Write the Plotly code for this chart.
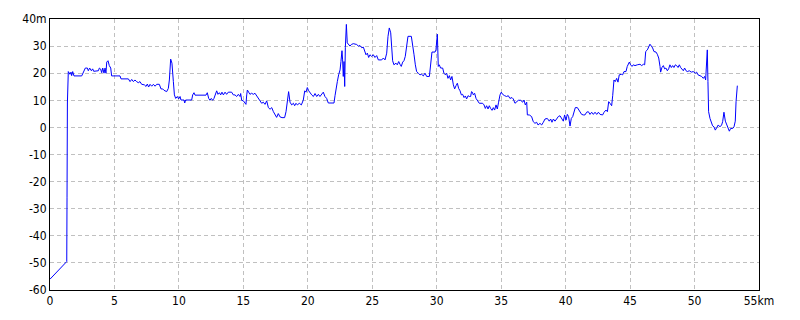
import plotly.graph_objects as go

# distance (km) and elevation (m)
km = [0, 1.3, 1.32, 1.35, 1.42, 1.55, 1.63, 1.68, 1.76, 1.86, 2.46, 2.59, 2.74, 2.9, 2.97, 3.08, 3.21, 3.31, 3.39, 3.75,
      3.83, 3.93, 4.01, 4.09, 4.19, 4.27, 4.34, 4.4, 4.5, 4.6, 4.71, 4.78, 5.43, 5.51, 6.08, 6.21, 6.34, 6.47, 6.59, 6.72,
      6.85, 6.98, 7.11, 7.32, 7.45, 7.55, 7.65, 7.76, 7.89, 8.02, 8.15, 8.28, 8.48, 8.61, 8.74, 8.84, 9.05, 9.18, 9.26, 9.36,
      9.46, 9.57, 9.65, 9.75, 9.88, 9.98, 10.09, 10.16, 10.4, 10.45, 10.52, 10.99, 11.07, 11.17, 11.25, 12.1, 12.2, 12.31, 12.41, 12.51,
      12.62, 12.72, 12.83, 12.93, 13.03, 13.14, 13.24, 13.34, 13.45, 13.58, 13.7, 13.83, 14.09, 14.22, 14.35, 14.48, 14.61, 14.74, 14.79, 14.87,
      15.0, 15.13, 15.2, 15.26, 15.31, 15.41, 15.51, 15.64, 15.77, 15.9, 16.03, 16.16, 16.29, 16.42, 16.55, 16.68, 16.81, 16.94, 17.07, 17.2,
      17.33, 17.45, 17.58, 17.71, 17.84, 18.0, 18.2, 18.31, 18.41, 18.51, 18.62, 18.75, 18.88, 18.98, 19.08, 19.19, 19.34, 19.5, 19.65, 19.76,
      19.86, 19.96, 20.07, 20.17, 20.3, 20.43, 20.56, 20.69, 20.82, 20.94, 21.07, 21.2, 21.33, 21.46, 21.59, 22.03, 22.11, 22.19, 22.29, 22.39,
      22.5, 22.57, 22.65, 22.7, 22.75, 22.81, 22.86, 22.91, 22.99, 23.06, 23.17, 23.27, 23.38, 23.53, 23.79, 23.92, 24.05, 24.18, 24.31, 24.41,
      24.51, 24.62, 24.72, 24.82, 24.95, 25.08, 25.21, 25.34, 25.47, 25.73, 25.86, 25.99, 26.12, 26.22, 26.32, 26.43, 26.5, 26.58, 26.68, 26.84,
      26.94, 27.05, 27.15, 27.25, 27.36, 27.46, 27.56, 27.67, 27.77, 28.03, 28.13, 28.24, 28.34, 28.44, 28.57, 28.7, 28.83, 28.96, 29.09, 29.22,
      29.43, 29.53, 29.63, 29.87, 29.94, 30.05, 30.12, 30.2, 30.3, 30.46, 30.56, 30.67, 30.77, 30.87, 30.98, 31.08, 31.18, 31.29, 31.39, 31.5,
      31.6, 31.7, 31.81, 31.91, 32.01, 32.12, 32.22, 32.32, 32.43, 32.53, 32.63, 32.7, 32.76, 32.84, 32.94, 33.05, 33.15, 33.3, 33.56, 33.67,
      33.77, 33.87, 33.98, 34.08, 34.18, 34.29, 34.39, 34.49, 34.6, 34.7, 34.8, 34.91, 35.01, 35.11, 35.27, 35.42, 35.55, 35.68, 35.84, 35.94,
      36.07, 36.2, 36.33, 36.51, 36.67, 36.77, 36.87, 36.98, 37.03, 37.18, 37.36, 37.49, 37.62, 37.75, 37.86, 38.01, 38.14, 38.27, 38.4, 38.58,
      38.73, 38.84, 38.94, 39.05, 39.17, 39.3, 39.43, 39.56, 39.69, 39.82, 39.92, 40.03, 40.13, 40.23, 40.34, 40.44, 40.55, 40.65, 40.75, 40.91,
      41.01, 41.11, 41.24, 41.37, 41.5, 41.63, 41.76, 41.89, 42.02, 42.15, 42.28, 42.41, 42.54, 42.67, 42.87, 42.98, 43.13, 43.24, 43.34, 43.44,
      43.57, 43.65, 43.75, 43.85, 43.96, 44.06, 44.16, 44.32, 44.42, 44.53, 44.68, 44.78, 44.94, 45.04, 45.15, 45.25, 45.38, 45.56, 45.77, 45.9,
      46.03, 46.13, 46.21, 46.34, 46.44, 46.54, 46.65, 46.75, 46.85, 47.01, 47.11, 47.22, 47.32, 47.37, 47.47, 47.58, 47.68, 47.78, 47.89, 47.99,
      48.09, 48.2, 48.3, 48.4, 48.51, 48.61, 48.72, 48.82, 48.92, 49.03, 49.13, 49.23, 49.34, 49.44, 49.59, 49.75, 49.9, 50.06, 50.16, 50.27,
      50.42, 50.55, 50.68, 50.78, 50.86, 50.91, 50.99, 51.04, 51.09, 51.2, 51.3, 51.4, 51.51, 51.61, 51.72, 51.84, 51.97, 52.1, 52.18, 52.28,
      52.39, 52.49, 52.59, 52.7, 52.8, 52.96, 53.06, 53.16, 53.22, 53.27, 53.32]

elev = [-56, -49.5, -26, 9, 20.6, 19.6, 20.4, 19.1, 20.6, 19.0, 19.0, 20.4, 21.9, 21.9, 20.9, 21.9, 20.9, 21.6, 20.7, 20.9,
        21.9, 21.5, 20.2, 21.9, 20.0, 21.9, 20.0, 24.1, 24.6, 22.8, 21.9, 19.0, 19.0, 17.9, 17.9, 16.9, 17.7, 16.9, 17.5, 16.9,
        16.5, 16.9, 15.9, 15.7, 15.1, 16.0, 14.9, 15.9, 15.2, 15.9, 15.2, 15.9, 15.9, 14.2, 14.2, 13.7, 13.2, 14.4, 17.5, 25.2,
        23.7, 16.9, 12.0, 10.7, 11.4, 10.5, 11.4, 10.1, 10.1, 9.0, 10.1, 10.1, 12.0, 12.8, 11.9, 11.9, 12.8, 10.7, 10.0, 10.7,
        10.0, 10.7, 11.9, 13.5, 12.2, 12.8, 12.0, 13.0, 12.0, 13.0, 12.2, 13.0, 13.0, 12.0, 12.0, 11.4, 12.2, 11.4, 12.5, 10.0,
        9.8, 9.1, 8.5, 12.0, 13.8, 13.0, 12.2, 12.6, 12.2, 12.6, 11.7, 10.5, 9.8, 8.9, 9.3, 8.5, 9.8, 7.3, 6.7, 7.3,
        5.8, 4.6, 3.7, 5.1, 3.9, 3.6, 3.6, 5.8, 9.3, 13.2, 9.3, 8.3, 8.9, 8.0, 8.9, 8.3, 8.9, 8.3, 10.1, 13.5,
        13.0, 14.7, 13.5, 12.6, 12.0, 11.4, 12.5, 11.4, 12.2, 11.4, 12.2, 13.0, 11.4, 10.7, 9.0, 9.0, 11.7, 15.1, 16.9, 19.4,
        21.2, 24.3, 28.3, 24.9, 18.8, 24.3, 15.1, 29.4, 38.0, 31.2, 30.6, 30.0, 30.6, 30.9, 30.6, 30.0, 30.2, 29.4, 29.6, 27.8,
        26.8, 27.4, 25.8, 26.8, 26.2, 26.8, 25.8, 26.5, 24.9, 24.9, 25.6, 24.9, 27.4, 33.6, 36.7, 34.9, 29.4, 24.6, 23.1, 23.7,
        23.1, 24.3, 23.3, 22.5, 24.1, 24.6, 26.2, 30.0, 33.6, 33.6, 29.4, 26.8, 23.1, 20.6, 20.0, 19.4, 19.6, 19.0, 20.0, 18.8,
        18.8, 24.3, 27.8, 27.8, 28.6, 34.4, 22.5, 23.1, 21.9, 21.9, 20.0, 19.4, 20.0, 18.1, 19.1, 17.5, 18.8, 15.7, 14.2, 15.4,
        16.3, 14.4, 13.5, 12.0, 12.2, 11.0, 11.6, 10.5, 11.7, 11.4, 11.4, 13.2, 13.0, 12.0, 12.6, 10.7, 10.0, 8.9, 8.9, 8.3,
        7.0, 8.0, 6.8, 8.0, 7.0, 6.3, 7.3, 6.4, 8.3, 6.8, 9.3, 12.0, 13.0, 12.2, 11.7, 11.4, 11.7, 10.7, 11.0, 10.5,
        8.9, 9.5, 10.0, 10.0, 9.3, 10.1, 8.3, 9.3, 4.6, 4.6, 4.0, 2.1, 1.5, 1.9, 0.9, 1.5, 0.9, 1.9, 3.1, 3.3,
        2.3, 3.1, 1.9, 3.1, 2.3, 3.1, 4.0, 4.3, 3.1, 2.3, 4.6, 2.7, 4.8, 4.0, 0.5, 3.3, 4.0, 5.8, 7.3, 7.3,
        6.4, 5.6, 4.8, 4.6, 4.6, 5.6, 5.8, 4.8, 5.6, 4.8, 5.6, 4.8, 5.6, 4.8, 4.6, 5.6, 6.4, 5.8, 9.5, 8.9,
        8.0, 11.7, 17.5, 16.9, 18.1, 16.7, 19.4, 19.6, 19.4, 20.6, 20.6, 22.5, 24.1, 23.1, 22.5, 23.1, 22.8, 23.1, 23.3, 22.8,
        23.3, 23.1, 28.0, 28.6, 29.5, 30.7, 30.0, 29.3, 28.0, 27.8, 27.0, 25.6, 22.5, 20.4, 22.1, 22.8, 21.6, 21.9, 20.9, 21.6,
        23.1, 22.1, 22.8, 22.1, 23.1, 22.8, 22.1, 23.1, 22.1, 21.2, 20.9, 21.9, 20.9, 20.6, 20.9, 20.4, 20.6, 20.0, 20.4, 19.4,
        19.1, 18.8, 18.1, 18.8, 17.5, 23.1, 28.6, 16.9, 5.8, 3.3, 1.5, 0.6, 0.2, -1.0, -0.1, 0.9, 0.2, 0.9, 2.1, 5.6,
        2.3, 0.9, -0.6, -1.4, -0.4, -0.4, 0.2, 2.3, 9.5, 13.2, 15.4]

x_ticks = [0, 5, 10, 15, 20, 25, 30, 35, 40, 45, 50, 55]
x_tick_text = ["0", "5", "10", "15", "20", "25", "30", "35", "40", "45", "50", "55km"]
y_ticks = [-60, -50, -40, -30, -20, -10, 0, 10, 20, 30, 40]
y_tick_text = ["-60", "-50", "-40", "-30", "-20", "-10", "0", "10", "20", "30", "40m"]

fig = go.Figure()
fig.add_trace(go.Scatter(x=km, y=elev, mode="lines",
                         line=dict(color="#0000ff", width=1), hoverinfo="skip"))

axis_common = dict(
    showline=True, linecolor="black", linewidth=1, mirror=True,
    showgrid=True, gridcolor="#c0c0c0", griddash="4px,3px", gridwidth=1,
    zeroline=False, ticks="", tickfont=dict(family="Liberation Sans Narrow, DejaVu Sans Condensed, Liberation Sans",
                                            size=12, color="black"),
)
fig.update_xaxes(range=[0, 55], tickmode="array", tickvals=x_ticks, ticktext=x_tick_text, **axis_common)
fig.update_yaxes(range=[-60, 40], tickmode="array", tickvals=y_ticks, ticktext=y_tick_text, **axis_common)

fig.update_layout(
    width=800, height=320,
    margin=dict(l=50, r=41, t=19, b=30),
    plot_bgcolor="white", paper_bgcolor="white",
    showlegend=False,
)
fig.write_html("out.html")
